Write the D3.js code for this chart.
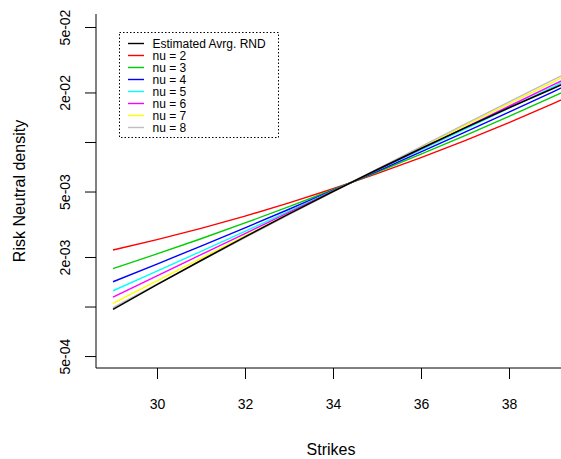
<!DOCTYPE html>
<html>
<head>
<meta charset="utf-8">
<script src="https://cdn.jsdelivr.net/npm/d3@7"></script>
<style>
  html, body { margin: 0; padding: 0; background: #fff; }
  svg { display: block; }
  text { font-family: "Liberation Sans", Arial, sans-serif; fill: #000; }
</style>
</head>
<body>
<svg id="chart" width="561" height="459"></svg>
<script>
// ---- data ----
const strikes = [29, 30, 31, 32, 33, 34, 35, 36, 37, 38, 39, 40];
const estAvgRND = [0.000961, 0.001358, 0.001905, 0.002651, 0.003655, 0.004998, 0.006784, 0.009126, 0.012183, 0.016129, 0.021168, 0.027563];
const nu2 = [0.002205, 0.002549, 0.002985, 0.003542, 0.004262, 0.005197, 0.006421, 0.008039, 0.010205, 0.013129, 0.017108, 0.022600];
const nu3 = [0.001700, 0.002087, 0.002582, 0.003220, 0.004047, 0.005127, 0.006548, 0.008428, 0.010937, 0.014307, 0.018858, 0.025058];
const nu4 = [0.001414, 0.001812, 0.002330, 0.003008, 0.003902, 0.005079, 0.006640, 0.008714, 0.011487, 0.015204, 0.020197, 0.026948];
const nu5 = [0.001247, 0.001641, 0.002165, 0.002862, 0.003795, 0.005042, 0.006714, 0.008961, 0.011993, 0.016087, 0.021615, 0.029130];
const nu6 = [0.001142, 0.001535, 0.002064, 0.002774, 0.003732, 0.005020, 0.006756, 0.009092, 0.012244, 0.016492, 0.022209, 0.029931];
const nu7 = [0.001046, 0.001434, 0.001962, 0.002684, 0.003663, 0.004995, 0.006805, 0.009257, 0.012583, 0.017079, 0.023148, 0.031348];
const nu8 = [0.000985, 0.001368, 0.001895, 0.002622, 0.003617, 0.004978, 0.006840, 0.009376, 0.012827, 0.017508, 0.023838, 0.032397];

const seriesNames = ["Estimated Avrg. RND", "nu = 2", "nu = 3", "nu = 4", "nu = 5", "nu = 6", "nu = 7", "nu = 8"];
const seriesColors = ["#000000", "#FF0000", "#00CD00", "#0000FF", "#00FFFF", "#FF00FF", "#FFFF00", "#BEBEBE"];
const seriesValues = [estAvgRND, nu2, nu3, nu4, nu5, nu6, nu7, nu8];

const xTicks = [30, 32, 34, 36, 38];
const yTicks = [5e-4, 1e-3, 2e-3, 5e-3, 1e-2, 2e-2, 5e-2];
const yTickLabels = ["5e-04", "", "2e-03", "5e-03", "", "2e-02", "5e-02"];

// ---- layout ----
const svg = d3.select("#chart");
const mLeft = 96, mTop = 14, mBottom = 368, mRightFull = 597;

const x = d3.scaleLinear().domain([28.6136, 40]).range([mLeft, mRightFull]);
const y = d3.scaleLog().domain([4.23e-4, 0.05997]).range([mBottom, mTop]);

svg.append("defs").append("clipPath").attr("id", "clip")
  .append("rect").attr("x", mLeft).attr("y", mTop).attr("width", mRightFull - mLeft).attr("height", mBottom - mTop);

// lines (nu series first, estimated last)
const line = d3.line().x((d, i) => x(strikes[i])).y(d => y(d));
const g = svg.append("g").attr("clip-path", "url(#clip)");
const order = [1, 2, 3, 4, 5, 6, 7, 0];
order.forEach(k => {
  g.append("path")
    .datum(seriesValues[k])
    .attr("d", line)
    .attr("fill", "none")
    .attr("stroke", seriesColors[k])
    .attr("stroke-width", k === 0 ? 1.6 : 1.4);
});

// axes (bty = "l")
const xAxis = d3.axisBottom(x).tickValues(xTicks).tickSize(11).tickPadding(20).tickFormat(d3.format("d"));
const xg = svg.append("g").attr("transform", `translate(0,${mBottom})`).call(xAxis);
xg.select(".domain").remove();
xg.selectAll("line").attr("stroke", "#000");
xg.selectAll("text").attr("font-size", 14).attr("font-family", "Liberation Sans, Arial, sans-serif").attr("fill", "#000");
svg.append("line").attr("x1", mLeft).attr("x2", 561).attr("y1", mBottom).attr("y2", mBottom).attr("stroke", "#000");

const yAxis = d3.axisLeft(y).tickValues(yTicks).tickSize(11).tickFormat((d, i) => yTickLabels[i]);
const yg = svg.append("g").attr("transform", `translate(${mLeft},0)`).call(yAxis);
yg.select(".domain").remove();
yg.selectAll("line").attr("stroke", "#000");
yg.selectAll(".tick").each(function(d) {
  d3.select(this).select("text")
    .attr("font-size", 14).attr("font-family", "Liberation Sans, Arial, sans-serif").attr("fill", "#000")
    .attr("x", null).attr("dy", null)
    .attr("text-anchor", "middle")
    .attr("transform", "translate(-26,0) rotate(-90)");
});
svg.append("line").attr("x1", mLeft).attr("x2", mLeft).attr("y1", mTop).attr("y2", mBottom).attr("stroke", "#000");

// axis titles
svg.append("text").attr("x", 331).attr("y", 455).attr("text-anchor", "middle")
  .attr("font-size", 16).text("Strikes");
svg.append("text").attr("transform", `translate(25,${(mTop + mBottom) / 2}) rotate(-90)`)
  .attr("text-anchor", "middle").attr("font-size", 16).text("Risk Neutral density");

// legend
const lg = svg.append("g");
lg.append("rect").attr("x", 119.5).attr("y", 32.5).attr("width", 159).attr("height", 105)
  .attr("fill", "#fff").attr("stroke", "#000").attr("stroke-dasharray", "1.5,2");
seriesNames.forEach((name, i) => {
  const cy = 43.5 + 12 * i;
  lg.append("line").attr("x1", 128).attr("x2", 144).attr("y1", cy).attr("y2", cy)
    .attr("stroke", seriesColors[i]).attr("stroke-width", 1.4);
  lg.append("text").attr("x", 152.5).attr("y", cy + 4.3).attr("font-size", 12).text(name);
});
</script>
</body>
</html>
